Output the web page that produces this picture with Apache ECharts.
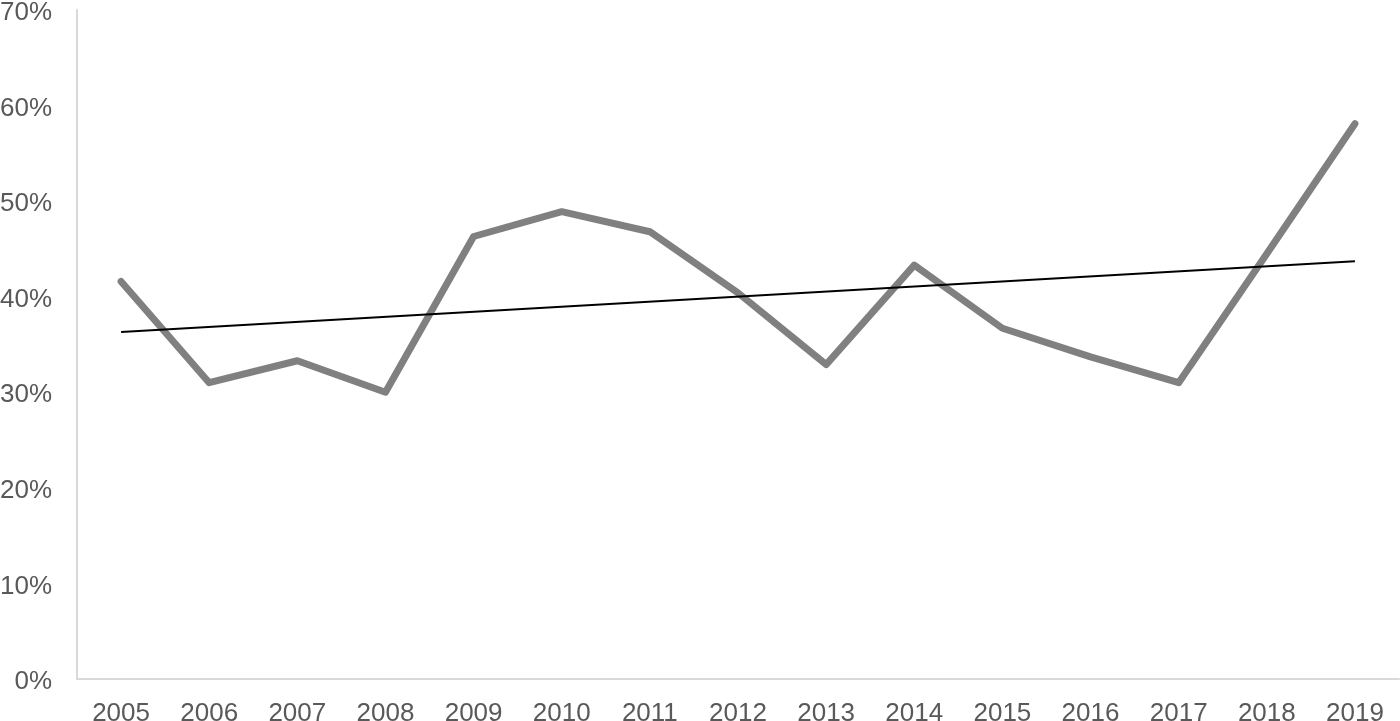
<!DOCTYPE html>
<html>
<head>
<meta charset="utf-8">
<script src="https://cdn.jsdelivr.net/npm/echarts@6/dist/echarts.min.js"></script>
<style>
  html, body { margin: 0; padding: 0; background: #fff; }
  #chart { width: 1400px; height: 721px; }
</style>
</head>
<body>
<div id="chart"></div>
<script>
// values, in percent
const years = ["2005", "2006", "2007", "2008", "2009", "2010", "2011", "2012", "2013", "2014", "2015", "2016", "2017", "2018", "2019"]
const shares = [41.6, 31.0, 33.3, 30.0, 46.3, 48.9, 46.8, 40.4, 32.9, 43.3, 36.7, 33.7, 31.0, 44.5, 58.1]
// linear trend line, only the two ends are drawn
const trend = [36.3, null, null, null, null, null, null, null, null, null, null, null, null, null, 43.7]

let myChart = echarts.init(document.getElementById("chart"))

let option = {
    animation: false,
    grid: {
        left: 77,
        right: 1,
        top: 10,
        bottom: 42,
        containLabel: false,
        outerBoundsMode: "none"
    },
    xAxis: {
        type: "category",
        data: years,
        boundaryGap: true,
        axisLine: { lineStyle: { color: "#d9d9d9", width: 2 } },
        axisTick: { show: false },
        axisLabel: {
            color: "#595959",
            fontSize: 26,
            fontFamily: "Liberation Sans, Arial, sans-serif",
            margin: 22,
            interval: 0
        }
    },
    yAxis: {
        type: "value",
        min: 0,
        max: 70,
        interval: 10,
        axisLine: { show: true, lineStyle: { color: "#d9d9d9", width: 2 } },
        axisTick: { show: false },
        splitLine: { show: false },
        axisLabel: {
            margin: 25,
            formatter: "{p|{value}%}",
            rich: {
                p: {
                    color: "#595959",
                    fontSize: 26,
                    fontFamily: "Liberation Sans, Arial, sans-serif",
                    padding: [6, 0, 0, 0]
                }
            }
        }
    },
    series: [
        {
            type: "line",
            data: shares,
            symbol: "none",
            lineStyle: { color: "#808080", width: 7, cap: "round", join: "round" },
            z: 2
        },
        {
            type: "line",
            data: trend,
            connectNulls: true,
            symbol: "none",
            lineStyle: { color: "#000000", width: 2 },
            z: 3
        }
    ]
}
myChart.setOption(option)
</script>
</body>
</html>
